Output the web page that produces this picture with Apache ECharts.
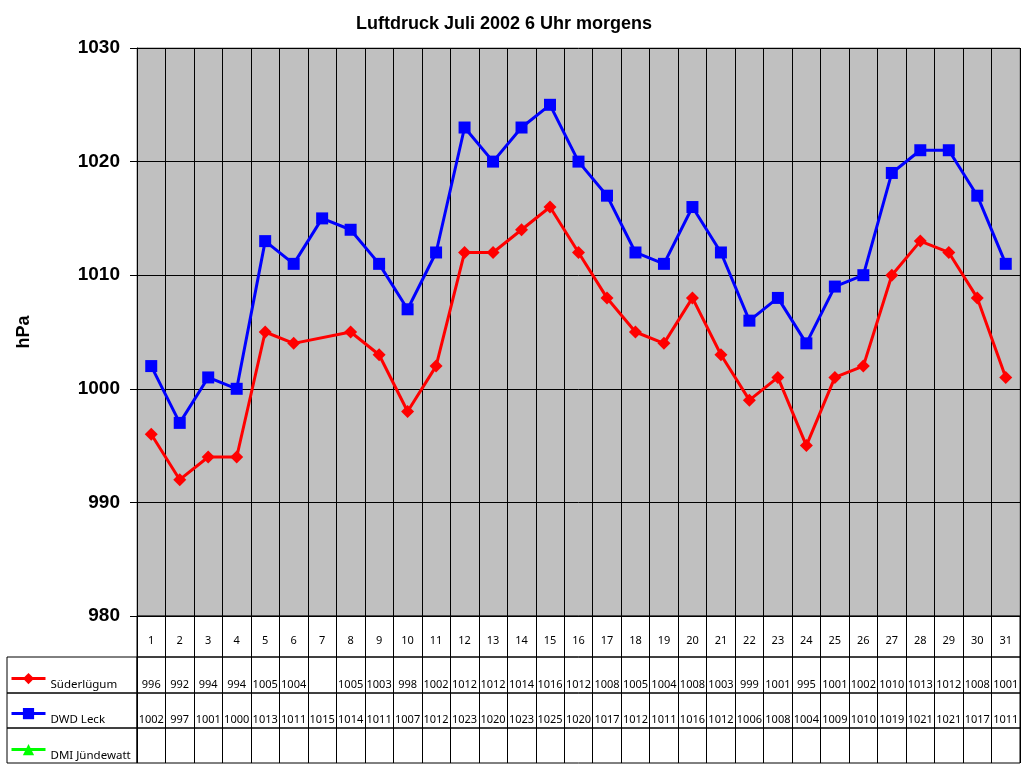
<!DOCTYPE html>
<html>
<head>
<meta charset="utf-8">
<script src="https://cdn.jsdelivr.net/npm/echarts@6/dist/echarts.min.js"></script>
<style>html,body{margin:0;padding:0;background:#fff}#c{width:1024px;height:768px}</style>
</head>
<body>
<div id="c"></div>
<script>
const days = ['1','2','3','4','5','6','7','8','9','10','11','12','13','14','15','16','17','18','19','20','21','22','23','24','25','26','27','28','29','30','31'];
const suederluegum = [996,992,994,994,1005,1004,null,1005,1003,998,1002,1012,1012,1014,1016,1012,1008,1005,1004,1008,1003,999,1001,995,1001,1002,1010,1013,1012,1008,1001];
const dwdLeck = [1002,997,1001,1000,1013,1011,1015,1014,1011,1007,1012,1023,1020,1023,1025,1020,1017,1012,1011,1016,1012,1006,1008,1004,1009,1010,1019,1021,1021,1017,1011];
const dmiJuendewatt = days.map(() => null);
const seriesNames = ['Süderlügum','DWD Leck','DMI Jündewatt'];
const yTicks = [980,990,1000,1010,1020,1030];

const chart = echarts.init(document.getElementById('c'));
const tableFont = {fontFamily:'Noto Sans', fontSize:11, color:'#000'};
const rowVals = [suederluegum, dwdLeck, dmiJuendewatt];

const grids = [
  {left:137, right:4, top:48, height:568, show:true, backgroundColor:'#C0C0C0', borderColor:'#808080', borderWidth:1},
  {left:137, right:4, top:616, height:41, show:true, backgroundColor:'transparent', borderColor:'#000', borderWidth:1}
];
const xAxes = [
  {gridIndex:0, type:'category', data:days, boundaryGap:true,
   axisLine:{show:true, lineStyle:{color:'#000'}}, axisTick:{show:false}, axisLabel:{show:false},
   splitLine:{show:true, interval:0, lineStyle:{color:'#000', width:1}}},
  {gridIndex:1, type:'category', data:days, boundaryGap:true,
   axisLine:{show:false}, axisTick:{show:false},
   axisLabel:{inside:true, margin:11, interval:0, ...tableFont},
   splitLine:{show:true, interval:0, lineStyle:{color:'#000', width:1}}}
];
const yAxes = [
  {gridIndex:0, type:'value', min:980, max:1030, interval:10,
   name:'hPa', nameLocation:'middle', nameGap:104,
   nameTextStyle:{fontFamily:'Liberation Sans', fontWeight:'bold', fontSize:18, color:'#000'},
   axisLine:{show:true, lineStyle:{color:'#000'}},
   axisTick:{show:true, length:7, lineStyle:{color:'#000'}},
   axisLabel:{margin:17, fontFamily:'Liberation Sans', fontWeight:'bold', fontSize:19, color:'#000',
     formatter:(v) => yTicks.includes(v) ? String(v) : ''},
   splitLine:{show:true, lineStyle:{color:'#000', width:1}}},
  {gridIndex:1, type:'value', min:0, max:1, show:false}
];
const rowTops = [657, 693, 728];
const rowH = [36, 35, 35];
const legendTops = [668, 703, 739];
const legends = [];
rowVals.forEach((vals, r) => {
  grids.push({left:137, right:4, top:rowTops[r], height:rowH[r], show:true, backgroundColor:'transparent', borderColor:'#000', borderWidth:1});
  const gi = grids.length - 1;
  xAxes.push({gridIndex:gi, type:'category', data:days, boundaryGap:true,
    axisLine:{show:false}, axisTick:{show:false},
    axisLabel:{inside:true, margin:3, interval:0, ...tableFont, formatter:(v, i) => vals[i] == null ? '' : String(vals[i])},
    splitLine:{show:true, interval:0, lineStyle:{color:'#000', width:1}}});
  yAxes.push({gridIndex:gi, type:'value', min:0, max:1, show:false});
  grids.push({left:7, width:130, top:rowTops[r], height:rowH[r], show:true, backgroundColor:'transparent', borderColor:'#000', borderWidth:1});
  const gj = grids.length - 1;
  xAxes.push({gridIndex:gj, type:'category', data:['x'], show:false});
  yAxes.push({gridIndex:gj, type:'value', min:0, max:1, show:false});
  legends.push({orient:'horizontal', left:5, top:legendTops[r], itemWidth:34, itemHeight:14,
    padding:5, data:[seriesNames[r]], lineStyle:{width:3},
    formatter:(n) => '{a|' + n + '}',
    textStyle:{rich:{a:{fontFamily:'Noto Sans', fontSize:11.5, color:'#000', padding:[12,0,0,0]}}}});
});

chart.setOption({
  animation:false,
  title:{text:'Luftdruck Juli 2002 6 Uhr morgens', left:351, top:10,
    textStyle:{fontFamily:'Liberation Sans', fontWeight:'bold', fontSize:18, color:'#000'}},
  legend:legends,
  grid:grids,
  xAxis:xAxes,
  yAxis:yAxes,
  series:[
    {name:seriesNames[0], type:'line', xAxisIndex:0, yAxisIndex:0, data:suederluegum, connectNulls:true,
     color:'#FF0000', symbol:'diamond', symbolSize:13, showAllSymbol:true,
     lineStyle:{width:3, color:'#FF0000'}, itemStyle:{color:'#FF0000'}},
    {name:seriesNames[1], type:'line', xAxisIndex:0, yAxisIndex:0, data:dwdLeck,
     color:'#0000FF', symbol:'rect', symbolSize:12, showAllSymbol:true,
     lineStyle:{width:3, color:'#0000FF'}, itemStyle:{color:'#0000FF'}},
    {name:seriesNames[2], type:'line', xAxisIndex:0, yAxisIndex:0, data:dmiJuendewatt,
     color:'#00FF00', symbol:'triangle', symbolSize:12,
     lineStyle:{width:3, color:'#00FF00'}, itemStyle:{color:'#00FF00'}}
  ]
});
</script>
</body>
</html>
